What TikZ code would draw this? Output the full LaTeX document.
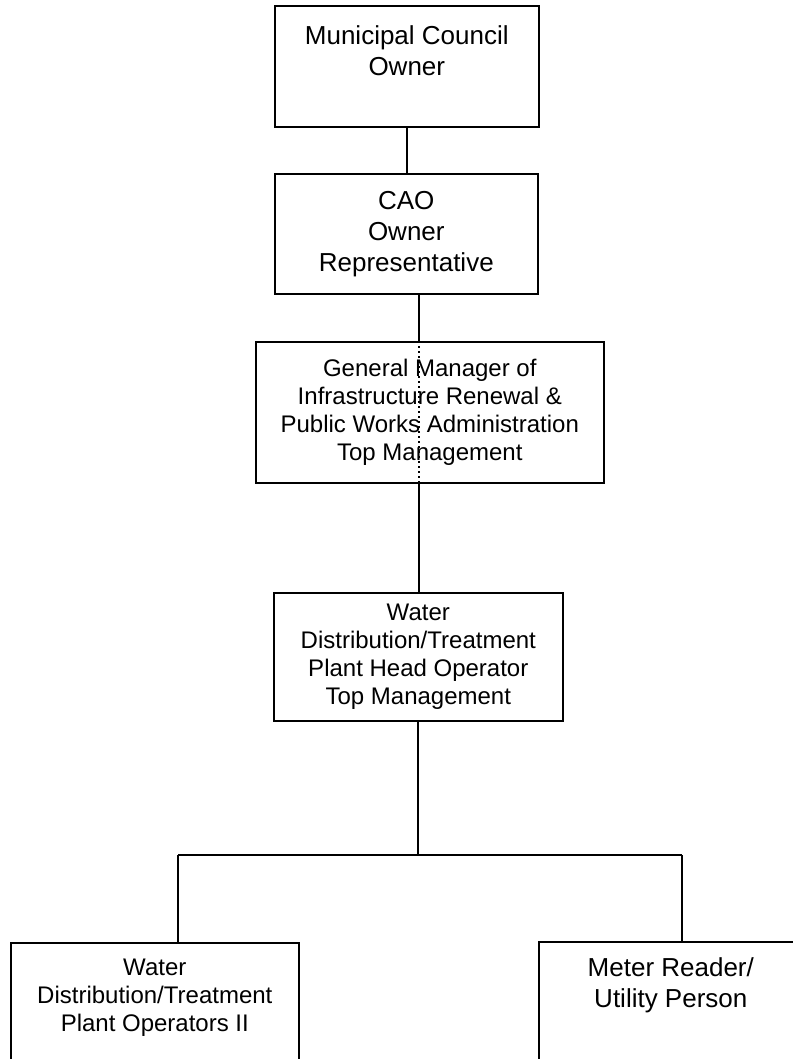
\documentclass[tikz,border=0pt]{standalone}
\usepackage{fontspec}
\setmainfont{Liberation Sans}
\usetikzlibrary{positioning}

\tikzset{
  post/.style={draw, line width=1.6pt, align=center, inner sep=0pt, anchor=north west},
  big/.style={font=\fontsize{26}{31}\selectfont},
  small/.style={font=\fontsize{24}{28}\selectfont},
  link/.style={line width=2.2pt},
}

\begin{document}
\begin{tikzpicture}[x=1pt,y=-1pt]
\useasboundingbox (0,0) rectangle (792,1059);

\node[post, big, minimum width=264pt, minimum height=121pt] (council) at (274,5) {Municipal Council\\Owner\\~};
\node[post, big, minimum width=263pt, minimum height=120pt] (cao) at (274,173) {CAO\\Owner\\Representative};
\node[post, small, minimum width=348pt, minimum height=141pt] (gm) at (255,341) {General Manager of\\Infrastructure Renewal \&\\Public Works Administration\\Top Management};
\node[post, small, minimum width=289pt, minimum height=128pt] (head) at (273,592) {Water\\Distribution/Treatment\\Plant Head Operator\\Top Management};
\node[post, small, minimum width=288pt, minimum height=133pt] (operators) at (10,942) {Water\\Distribution/Treatment\\Plant Operators II\\~};
\node[post, big, minimum width=264pt, minimum height=144pt] (meter) at (538,941) {Meter Reader/\\Utility Person\\~\\~};

\coordinate (kink) at (419,546);
\coordinate (lbranch) at (178,855);
\coordinate (rbranch) at (682,855);

% top of the chain
\draw[link] (council.south) -- (council.south |- cao.north);
\draw[link] (kink |- cao.south) -- (kink |- gm.north);
\draw[link, dash pattern=on 2pt off 3pt] (kink |- gm.north) -- (kink |- gm.south);
\draw[line width=1.3pt] (kink |- gm.south) -- (kink);
\draw[link] (kink) -- (kink |- head.north);

% branches
\draw[link] (head.south) -- (head.south |- lbranch);
\draw[link] (lbranch) -- (rbranch);
\draw[link] (lbranch) -- (lbranch |- operators.north);
\draw[link] (rbranch) -- (rbranch |- meter.north);
\end{tikzpicture}
\end{document}
